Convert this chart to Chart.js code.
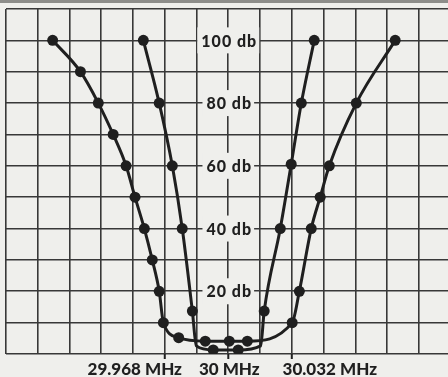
<!DOCTYPE html>
<html>
<head>
<meta charset="utf-8">
<script src="https://cdn.jsdelivr.net/npm/chart.js@4"></script>
<style>
  html, body { margin: 0; padding: 0; background: #efefec; }
  #wrap { width: 448px; height: 377px; position: relative; }
  #wrap::before { content: ""; position: absolute; left: 0; top: 0; width: 448px; height: 3px; background: #8d8d8a; }
</style>
</head>
<body>
<div id="wrap"><canvas id="chart" width="448" height="377"></canvas></div>
<script>
// offset from 30 MHz in kHz, attenuation in db
const outerFreq = [-88.5, -74.5, -65.5, -58, -51.5, -47, -42.3, -38.3, -34.8, -32.7, -25, -11.6, 0.5, 9.6, 32.2, 35.8, 41.8, 46.3, 50.9, 64.5, 84.1];
const outerDb   = [100, 90, 80, 70, 60, 50, 40, 30, 20, 10, 5.2, 4.1, 4.1, 4.1, 10, 20, 40, 50, 60, 80, 100];

const innerFreq = [-42.8, -34.8, -28.2, -23.2, -18.1, -16.1, -7.6, 5.0, 16.3, 18.1, 26.2, 31.7, 36.8, 43.3];
const innerDb   = [100, 80, 60, 40, 13.7, 2.6, 1.3, 1.3, 2.6, 13.7, 40, 60.5, 80, 100];
const innerBends = [5, 8]; // corners of the trace, no reading there

const dbLabels = [100, 80, 60, 40, 20];
const freqTicks = [-32, 0, 32];
const freqTickText = ["29.968 MHz", "30 MHz", "30.032 MHz"];

const ink = "#1f1f1f";
const paper = "#efefec";

const toPoints = (xs, ys) => xs.map((x, i) => ({ x: x, y: ys[i] }));

const labelPlugin = {
    id: "labels",
    beforeDatasetsDraw(c) {
        const ctx = c.ctx;
        const xs = c.scales.x, ys = c.scales.y;
        const cx = xs.getPixelForValue(0);
        ctx.save();
        ctx.font = "900 16px Lato";
        ctx.letterSpacing = "1px";
        ctx.textAlign = "center";
        ctx.textBaseline = "middle";
        dbLabels.forEach(v => {
            const y = ys.getPixelForValue(v);
            const txt = v + " db";
            const w = ctx.measureText(txt).width;
            ctx.fillStyle = paper;
            ctx.fillRect(cx - w / 2 - 3, y - 13, w + 6, 26);
            ctx.fillStyle = ink;
            ctx.fillText(txt, cx + 1, y + 1);
        });

        // frequency marks under the axis
        const base = ys.getPixelForValue(0);
        const shift = [-30, 1, 38];
        ctx.font = "900 17px Lato";
        ctx.letterSpacing = "0px";
        ctx.strokeStyle = ink;
        ctx.lineWidth = 2;
        freqTicks.forEach((f, i) => {
            const x = xs.getPixelForValue(f);
            ctx.beginPath();
            ctx.moveTo(x, base);
            ctx.lineTo(x, base + 5);
            ctx.stroke();
            ctx.fillStyle = ink;
            ctx.fillText(freqTickText[i], x + shift[i], base + 16);
        });
        ctx.restore();
    }
};

new Chart(document.getElementById("chart"), {
    type: "line",
    data: {
        datasets: [
            {
                data: toPoints(outerFreq, outerDb),
                borderColor: ink,
                backgroundColor: ink,
                borderWidth: 3,
                pointRadius: 5.5,
                pointBorderWidth: 0,
                cubicInterpolationMode: "monotone"
            },
            {
                data: toPoints(innerFreq, innerDb),
                borderColor: ink,
                backgroundColor: ink,
                borderWidth: 3,
                pointRadius: ctx => innerBends.includes(ctx.dataIndex) ? 0 : 5.5,
                pointBorderWidth: 0,
                cubicInterpolationMode: "monotone"
            }
        ]
    },
    options: {
        responsive: false,
        animation: false,
        layout: { autoPadding: false, padding: { left: 6, top: 9, right: 0, bottom: 23 } },
        plugins: { legend: { display: false }, tooltip: { enabled: false } },
        scales: {
            x: {
                type: "linear",
                min: -112,
                max: 110.7,
                afterBuildTicks: s => {
                    const t = [];
                    for (let v = -112; v <= 96; v += 16) t.push({ value: v });
                    s.ticks = t;
                },
                afterFit: s => { s.height = 0; },
                ticks: { display: false },
                grid: { color: "#383838", lineWidth: 1.6, drawTicks: false },
                border: { display: false }
            },
            y: {
                min: 0,
                max: 110,
                ticks: { display: false, stepSize: 10 },
                afterFit: s => { s.width = 0; },
                grid: { color: "#383838", lineWidth: 1.6, drawTicks: false },
                border: { display: false }
            }
        }
    },
    plugins: [labelPlugin]
});
</script>
</body>
</html>
